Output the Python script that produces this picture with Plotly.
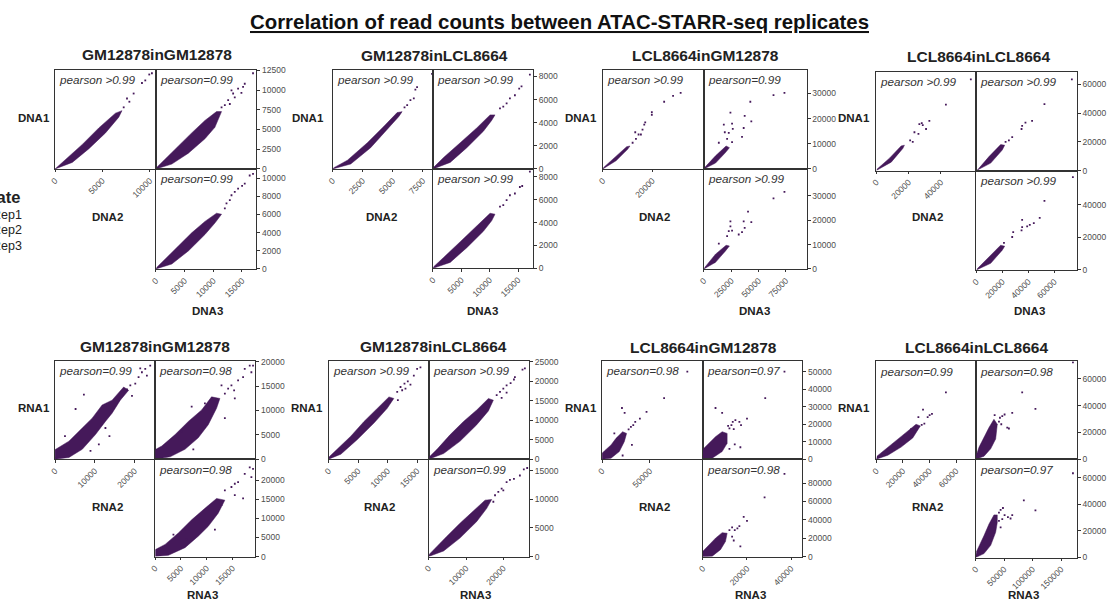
import plotly.graph_objects as go

# ---------------- text / labels ----------------
MAIN_TITLE = "Correlation of read counts between ATAC-STARR-seq replicates"
BLOCK_NAMES = ["GM12878inGM12878", "GM12878inLCL8664", "LCL8664inGM12878", "LCL8664inLCL8664"]
ASSAYS = ["DNA", "RNA"]
LEGEND_TITLE = "Replicate"
LEGEND_ITEMS = ["Rep1", "Rep2", "Rep3"]

# pearson labels per block: [rep2 vs rep1, rep3 vs rep1, rep3 vs rep2]
DNA_PEARSON = [["pearson >0.99", "pearson=0.99", "pearson=0.99"],
               ["pearson >0.99", "pearson >0.99", "pearson >0.99"],
               ["pearson >0.99", "pearson=0.99", "pearson >0.99"],
               ["pearson >0.99", "pearson >0.99", "pearson >0.99"]]
RNA_PEARSON = [["pearson=0.99", "pearson=0.98", "pearson=0.98"],
               ["pearson >0.99", "pearson >0.99", "pearson=0.99"],
               ["pearson=0.98", "pearson=0.97", "pearson=0.98"],
               ["pearson=0.99", "pearson=0.98", "pearson=0.97"]]

# axis maxima per block: [TL x, TL y, TR x, TR y, BR x, BR y]
DNA_MAX = [[10650, 12550, 17500, 12550, 17500, 11000],
           [8330, 8570, 17670, 8570, 17670, 8700],
           [40700, 39300, 93900, 39300, 93900, 41000],
           [62000, 68900, 77400, 68900, 77400, 61000]]
RNA_MAX = [[25200, 20200, 19440, 20200, 19440, 25580],
           [16950, 25250, 26900, 25250, 26900, 17000],
           [105600, 56200, 45150, 56200, 45150, 105900],
           [74800, 73000, 177800, 73000, 177800, 73800]]

# tick values per block: [rep2 on x (TL), rep1 on y, rep3 on x, rep2 on y (BR)]
DNA_TICKS = [[[0, 5000, 10000], [0, 2500, 5000, 7500, 10000, 12500], [0, 5000, 10000, 15000], [0, 2000, 4000, 6000, 8000, 10000]],
             [[0, 2500, 5000, 7500], [0, 2000, 4000, 6000, 8000], [0, 5000, 10000, 15000], [0, 2000, 4000, 6000, 8000]],
             [[0, 20000], [0, 10000, 20000, 30000], [0, 25000, 50000, 75000], [0, 10000, 20000, 30000]],
             [[0, 20000, 40000], [0, 20000, 40000, 60000], [0, 20000, 40000, 60000], [0, 20000, 40000]]]
RNA_TICKS = [[[0, 10000, 20000], [0, 5000, 10000, 15000, 20000], [0, 5000, 10000, 15000], [0, 5000, 10000, 15000, 20000]],
             [[0, 5000, 10000, 15000], [0, 5000, 10000, 15000, 20000, 25000], [0, 10000, 20000], [0, 5000, 10000, 15000]],
             [[0, 50000], [0, 10000, 20000, 30000, 40000, 50000], [0, 20000, 40000], [0, 20000, 40000, 60000, 80000]],
             [[0, 20000, 40000, 60000], [0, 20000, 40000, 60000], [0, 50000, 100000, 150000], [0, 20000, 40000, 60000]]]

# ---------------- data: dense cloud outlines + sparse points ----------------
# naming: D/R = DNA/RNA, block number, then pair "21" (x rep2, y rep1), "31" (x rep3, y rep1), "32" (x rep3, y rep2)
D1_21_band = [(0, 0), (1820, 830), (3580, 2570), (5330, 4570), (6730, 6560), (7070, 7390), (6380, 7070), (4620, 5200), (2880, 3110), (1120, 1170), (0, 0)]
D1_21_pts = [(7600, 8930), (8300, 9560), (9180, 10890), (9530, 11220), (10230, 12130), (9950, 11970), (7250, 7810), (7850, 8520)]
D1_31_band = [(0, 0), (2770, 620), (5660, 2000), (8550, 3830), (10280, 5280), (11440, 7270), (10570, 7270), (8550, 6150), (6240, 4570), (3930, 2910), (1620, 1330), (170, 210)]
D1_31_pts = [(12010, 8100), (12590, 8720), (13460, 9560), (14320, 10180), (15190, 10390), (15480, 10800), (16920, 12130), (13170, 9970), (13740, 9060), (14900, 9640), (11440, 7810), (12880, 8230)]
D1_32_band = [(0, 0), (2770, 540), (5660, 1980), (8550, 3790), (10280, 5050), (11440, 6020), (10570, 6130), (8550, 5230), (6240, 3970), (3930, 2520), (1620, 1080), (170, 180)]
D1_32_pts = [(12010, 6670), (12880, 7570), (13170, 8110), (14320, 8840), (15480, 9380), (16340, 10280), (16920, 10460), (13740, 8480), (12300, 7210), (15020, 9130)]

D2_21_band = [(0, 0), (1510, 430), (3160, 1840), (4540, 3400), (5500, 4540), (5770, 4960), (5360, 4880), (4260, 3690), (2890, 2270), (1240, 760), (80, 90)]
D2_21_pts = [(6190, 5530), (6460, 5960), (6740, 6100), (7010, 7090), (6870, 6870), (5970, 5330), (8250, 8230)]
D2_31_band = [(0, 0), (3040, 570), (5970, 1840), (8890, 3260), (10350, 4200), (10940, 4680), (10070, 4680), (7720, 3550), (4810, 2270), (1870, 990), (120, 140)]
D2_31_pts = [(11820, 5250), (12990, 5670), (13570, 6100), (15620, 7150), (15210, 6950), (12400, 5390), (14450, 6380), (17090, 8170)]
D2_32_band = [(0, 0), (3040, 520), (5970, 1810), (8890, 3240), (10350, 4160), (10940, 4740), (10070, 4820), (7720, 3670), (4810, 2330), (1870, 950), (120, 140)]
D2_32_pts = [(11820, 5400), (12990, 5970), (13570, 6400), (15330, 7120), (15740, 7210), (12400, 5540), (14450, 6550), (17090, 8470)]

D3_21_band = [(0, 0), (5340, 3250), (10000, 7810), (10940, 9110), (9610, 8840), (4670, 4550), (260, 520)]
D3_21_pts = [(12010, 10410), (13350, 11970), (13070, 14570), (14410, 13670), (15350, 13670), (16000, 15620), (16690, 17570), (17090, 18480), (19740, 21470), (19740, 22510), (24700, 26680), (28290, 29020), (31340, 30190)]
D3_31_band = [(0, 0), (10610, 2340), (19720, 6510), (23290, 8460), (20280, 9110), (10610, 5200), (900, 650)]
D3_31_pts = [(13620, 10410), (21200, 11970), (25730, 10670), (19070, 14570), (22720, 14310), (26380, 15880), (18180, 17570), (25730, 17960), (24230, 22380), (34830, 12750), (36350, 16260), (43320, 18870), (42420, 26680), (37260, 21080), (63600, 29280), (73600, 30190)]
D3_32_band = [(0, 0), (10610, 2690), (19720, 7390), (23290, 9410), (20280, 9680), (10610, 6050), (900, 670)]
D3_32_pts = [(13620, 10350), (21200, 13440), (22720, 15460), (24230, 19490), (24230, 17470), (25730, 15730), (31810, 14120), (34830, 15060), (37260, 16800), (36350, 19490), (43320, 19220), (40310, 23530), (63600, 28900), (73600, 31590)]

D4_21_band = [(0, 0), (9240, 5860), (16430, 15370), (17420, 17640), (15380, 17160), (8180, 8610), (410, 910)]
D4_21_pts = [(20960, 21010), (22570, 19910), (26100, 25490), (26660, 32310), (28150, 33000), (28770, 31630), (23620, 26660), (30810, 28940), (32860, 34590), (43090, 45890), (58530, 63460)]
D4_31_band = [(0, 0), (10990, 5170), (19890, 14260), (21750, 17640), (18650, 18050), (9680, 9710), (770, 340)]
D4_31_pts = [(22450, 19910), (25000, 21010), (27560, 23290), (34750, 28940), (35220, 31140), (37770, 33420), (42880, 34590), (52400, 46300), (73530, 63460)]
D4_32_band = [(0, 0), (10990, 4030), (19890, 12120), (21750, 14540), (18650, 15150), (9680, 8080), (770, 810)]
D4_32_pts = [(21210, 16570), (27560, 20200), (28330, 23230), (34750, 24240), (35220, 26260), (39090, 26670), (41100, 27680), (44200, 28690), (48760, 31920), (35220, 30710), (52400, 42420), (74310, 56970)]

R1_21_band = [(0, 0), (3500, 340), (6850, 2020), (10180, 5050), (12680, 7740), (14360, 9430), (16430, 12120), (18520, 14140), (17260, 14810), (14360, 12120), (11840, 11110), (9350, 8420), (6850, 6400), (3500, 3700), (170, 2020), (0, 2000)]
R1_21_pts = [(20190, 15490), (21020, 16830), (21860, 17840), (22700, 18520), (23950, 19190), (18940, 15150), (7260, 13260), (5170, 10300), (12680, 6400), (11020, 3030), (2500, 4710), (8920, 1680), (13690, 4710), (19360, 12990), (23110, 17170), (21440, 18650), (18110, 14340)]
R1_31_band = [(0, 0), (2900, 470), (5790, 2020), (8360, 4380), (10300, 7070), (11910, 10440), (12560, 12460), (10940, 12790), (9020, 10100), (6430, 7740), (3870, 5050), (1280, 2690), (130, 2020), (0, 1800)]
R1_31_pts = [(13520, 13470), (14160, 14480), (14800, 15150), (16090, 16160), (17060, 16830), (18350, 19190), (18990, 19190), (18670, 17840), (12870, 15150), (15320, 14140), (17380, 18520), (15450, 12460), (9650, 11450), (7080, 10770), (5150, 5720), (13520, 8420), (7400, 2020)]
R1_32_band = [(0, 0), (2570, 330), (5790, 2330), (8360, 5340), (10300, 7920), (12230, 11370), (13520, 14810), (11910, 15250), (9650, 12660), (7080, 9650), (4500, 6200), (1930, 3190), (130, 1890), (0, 1700)]
R1_32_pts = [(14800, 18260), (15450, 19120), (16090, 19550), (17380, 21700), (18350, 23430), (18990, 23000), (18670, 20840), (17060, 15250), (13520, 17400), (15450, 16110), (12870, 13520), (11590, 7060), (6110, 4480), (3540, 5770), (5790, 7060)]

R2_21_band = [(0, 0), (2080, 1260), (4880, 5050), (7690, 9270), (9930, 13050), (11050, 15580), (10220, 15980), (8250, 13050), (6000, 9670), (3760, 5890), (1510, 2520), (110, 590)]
R2_21_pts = [(11620, 17250), (12180, 18520), (12850, 19360), (13410, 19950), (14430, 21460), (14990, 23150), (15550, 23570), (13860, 19110), (12460, 17680), (11730, 15150), (13020, 18100)]
R2_31_band = [(0, 0), (4000, 1430), (8440, 4630), (12870, 8840), (15980, 12370), (17310, 15150), (15980, 15570), (12870, 12630), (9320, 9670), (5770, 6310), (2220, 2520), (180, 590)]
R2_31_pts = [(18200, 16410), (19090, 17250), (19980, 18100), (20860, 18940), (21930, 19530), (23080, 21040), (25120, 22980), (25750, 23320), (20860, 17080), (19530, 15740), (22820, 20450)]
R2_32_band = [(0, 0), (4000, 970), (8440, 3260), (12870, 6120), (15540, 8410), (16870, 9960), (15090, 9840), (11990, 8010), (8440, 5840), (4880, 3550), (1780, 1550), (180, 400)]
R2_32_pts = [(17760, 10700), (18640, 11280), (19530, 11850), (20860, 12990), (21750, 13390), (22820, 13570), (24410, 14140), (25470, 15230), (26370, 15450), (19980, 11560), (17310, 9560)]

R3_21_band = [(0, 0), (9380, 560), (18060, 4340), (23280, 9990), (25700, 14710), (21540, 15660), (14590, 11880), (9380, 8110), (2430, 4710), (0, 3390)]
R3_21_pts = [(27790, 16970), (30210, 18490), (32660, 19430), (34740, 21310), (39600, 23200), (46550, 26970), (64960, 34890), (89270, 49980), (20840, 29230), (23620, 26400), (31260, 8110), (21540, 2070), (12850, 14710)]
R3_31_band = [(0, 0), (4210, 560), (8730, 4340), (10990, 9050), (10990, 14710), (8730, 15660), (5720, 12820), (2710, 9050), (450, 6220), (0, 4340)]
R3_31_pts = [(12040, 17540), (12940, 19430), (13540, 21310), (14750, 22250), (16550, 21310), (17300, 19430), (13990, 17160), (11440, 19050), (5720, 29230), (8730, 26400), (20010, 23200), (17000, 6790), (12040, 5850), (14450, 8490), (28290, 34890), (37020, 49980)]
R3_32_band = [(0, 0), (4210, 710), (7980, 7790), (10230, 16640), (10990, 25500), (8730, 26210), (5720, 20190), (2710, 13100), (450, 7790), (0, 6020)]
R3_32_pts = [(12040, 29040), (13250, 31880), (14450, 29040), (15650, 30820), (13250, 21960), (13990, 17710), (17000, 11330), (20010, 38960), (18510, 43210), (16550, 33290), (27990, 64460), (37020, 89970)]

R4_21_band = [(0, 0), (8730, 2920), (18700, 8980), (27430, 15820), (33160, 24820), (29920, 26040), (22440, 19950), (14960, 13870), (6230, 7060), (500, 2190)]
R4_21_pts = [(34160, 25550), (36150, 26520), (38640, 31390), (40140, 32850), (41880, 33820), (35150, 36990), (31670, 31390), (52360, 49880), (26180, 22390)]
R4_31_band = [(0, 0), (14580, 2190), (26310, 7810), (35030, 15110), (37870, 26060), (32000, 29710), (23290, 23580), (14580, 16280), (5870, 8980), (1000, 2920)]
R4_31_pts = [(40810, 27980), (42560, 30900), (46640, 32120), (50720, 33340), (55390, 23600), (58300, 22870), (44890, 26040), (33240, 32850), (64150, 34550), (81640, 49880), (104930, 37480), (170850, 72270)]
R4_32_band = [(0, 0), (14580, 2950), (26310, 9100), (35030, 18940), (37870, 26320), (37870, 31980), (32000, 31980), (23290, 25090), (14580, 16480), (5870, 9100), (1000, 4180)]
R4_32_pts = [(40810, 33700), (43720, 35670), (47830, 37150), (40810, 27550), (46640, 28780), (50720, 31730), (56550, 30260), (61210, 29270), (64150, 31730), (84530, 42800), (104930, 35420), (170850, 63220), (43720, 22630)]

CLOUDS = {
    (0, 0): [(D1_21_band, D1_21_pts), (D1_31_band, D1_31_pts), (D1_32_band, D1_32_pts)],
    (0, 1): [(D2_21_band, D2_21_pts), (D2_31_band, D2_31_pts), (D2_32_band, D2_32_pts)],
    (0, 2): [(D3_21_band, D3_21_pts), (D3_31_band, D3_31_pts), (D3_32_band, D3_32_pts)],
    (0, 3): [(D4_21_band, D4_21_pts), (D4_31_band, D4_31_pts), (D4_32_band, D4_32_pts)],
    (1, 0): [(R1_21_band, R1_21_pts), (R1_31_band, R1_31_pts), (R1_32_band, R1_32_pts)],
    (1, 1): [(R2_21_band, R2_21_pts), (R2_31_band, R2_31_pts), (R2_32_band, R2_32_pts)],
    (1, 2): [(R3_21_band, R3_21_pts), (R3_31_band, R3_31_pts), (R3_32_band, R3_32_pts)],
    (1, 3): [(R4_21_band, R4_21_pts), (R4_31_band, R4_31_pts), (R4_32_band, R4_32_pts)],
}

# ---------------- layout geometry (pixels) ----------------
W, H = 1112, 611
GEOM = {  # per assay row: left, middle, right edges; top, middle, bottom edges of each block
    0: dict(L=[49.3, 328.3, 600, 875], M=[150.7, 429.3, 701.7, 975.7], R=[251.7, 530, 805, 1076.7],
            T=[66, 66, 66, 67.7], C=[166.7, 166.7, 166.7, 168.3], B=[268.3, 267.7, 268.3, 269.3]),
    1: dict(L=[49.3, 324.3, 599.3, 875], M=[150, 425, 700.7, 975], R=[250.7, 526, 800.7, 1076.7],
            T=[361.7, 361.7, 361.7, 362.3], C=[461.7, 461.7, 461.7, 461.7], B=[560.7, 560.7, 561, 561.7]),
}
TITLE_POS = {0: ([151.5, 431, 702.8, 977.5], [50.7, 51.7, 51.7, 52.7]),
             1: ([149.5, 429.7, 701.7, 975.8], [346.7, 346.7, 348.3, 348])}
LAB1_POS = {0: ([28, 303.5, 577.7, 853], 115), 1: ([28, 302.8, 578, 852.8], 410)}
LAB2_POS = {0: ([102.5, 377.5, 651.7, 926.7], 216), 1: ([101.7, 375.8, 651.7, 926.7], 510)}
LAB3_POS = {0: ([203, 478.8, 753, 1028.8], 311), 1: ([198, 472.5, 748.3, 1023], 600)}

PURPLE = "#45195a"
FONT = "Liberation Sans, Arial, sans-serif"
TICKFONT = dict(family=FONT, size=8.5, color="#4d4d4d")


def px(x):
    return x / W


def py(y):
    return 1 - y / H


fig = go.Figure()
layout = {}
annotations = []

for a in range(2):
    g = GEOM[a]
    pears = DNA_PEARSON if a == 0 else RNA_PEARSON
    maxes = DNA_MAX if a == 0 else RNA_MAX
    ticks = DNA_TICKS if a == 0 else RNA_TICKS
    for b in range(4):
        doms = [
            ((g["L"][b], g["M"][b]), (g["T"][b], g["C"][b])),
            ((g["M"][b], g["R"][b]), (g["T"][b], g["C"][b])),
            ((g["M"][b], g["R"][b]), (g["C"][b], g["B"][b])),
        ]
        tick_sets = [(ticks[b][0], ticks[b][1]), (ticks[b][2], ticks[b][1]), (ticks[b][2], ticks[b][3])]
        for p in range(3):
            idx = a * 12 + b * 3 + p + 1
            sfx = "" if idx == 1 else str(idx)
            (x0, x1), (y0, y1) = doms[p]
            band, pts = CLOUDS[(a, b)][p]
            xt, yt = tick_sets[p]
            fig.add_trace(go.Scatter(
                x=[q[0] for q in band], y=[q[1] for q in band], mode="lines", fill="toself",
                fillcolor=PURPLE, line=dict(color=PURPLE, width=0.5), xaxis="x" + sfx, yaxis="y" + sfx,
                hoverinfo="skip", showlegend=False))
            fig.add_trace(go.Scatter(
                x=[q[0] for q in pts], y=[q[1] for q in pts], mode="markers",
                marker=dict(color=PURPLE, size=1.8, symbol="square", line=dict(width=0)),
                xaxis="x" + sfx, yaxis="y" + sfx, showlegend=False, cliponaxis=True))
            show_x = p in (0, 2)
            show_y = p in (1, 2)
            xa = dict(domain=[px(x0), px(x1)], anchor="y" + sfx, range=[0, maxes[b][2 * p]],
                      showgrid=False, zeroline=False, showline=True, mirror=True,
                      linecolor="#333333", linewidth=1)
            ya = dict(domain=[py(y1), py(y0)], anchor="x" + sfx, range=[0, maxes[b][2 * p + 1]],
                      showgrid=False, zeroline=False, showline=True, mirror=True,
                      linecolor="#333333", linewidth=1)
            if show_x:
                xa.update(tickmode="array", tickvals=xt, ticktext=[str(v) for v in xt],
                          ticks="outside", ticklen=2.5, tickcolor="#333333", tickangle=-45,
                          tickfont=TICKFONT, showticklabels=True)
            else:
                xa.update(showticklabels=False, ticks="")
            if show_y:
                ya.update(side="right", tickmode="array", tickvals=yt, ticktext=[str(v) for v in yt],
                          ticks="outside", ticklen=3, tickcolor="#333333",
                          tickfont=TICKFONT, showticklabels=True)
            else:
                ya.update(showticklabels=False, ticks="")
            layout["xaxis" + sfx] = xa
            layout["yaxis" + sfx] = ya
            annotations.append(dict(
                text="<i>" + pears[b][p] + "</i>", xref="x" + sfx + " domain", yref="y" + sfx + " domain",
                x=0.02, y=0.985, xanchor="left", yanchor="top", showarrow=False,
                font=dict(family=FONT, size=11.7, color="#333333")))

        # block title and replicate labels
        tx, ty = TITLE_POS[a]
        annotations.append(dict(text="<b>" + BLOCK_NAMES[b] + "</b>", xref="paper", yref="paper",
                                x=px(tx[b]), y=py(ty[b]), xanchor="center", yanchor="middle",
                                showarrow=False, font=dict(family=FONT, size=15.5, color="#222222")))
        for pos, rep in ((LAB1_POS, 1), (LAB2_POS, 2), (LAB3_POS, 3)):
            xs, yy = pos[a]
            annotations.append(dict(text="<b>" + ASSAYS[a] + str(rep) + "</b>", xref="paper", yref="paper",
                                    x=px(xs[b]), y=py(yy), xanchor="center", yanchor="middle",
                                    showarrow=False, font=dict(family=FONT, size=11.5, color="#222222")))

# partially visible legend on the left edge (cut by the page edge, as in the source)
annotations.append(dict(text="<b>" + LEGEND_TITLE + "</b>", xref="paper", yref="paper",
                        x=px(16), y=py(195), xanchor="right", yanchor="middle", showarrow=False,
                        font=dict(family=FONT, size=16.5, color="#222222")))
for i, item in enumerate(LEGEND_ITEMS):
    annotations.append(dict(text=item, xref="paper", yref="paper",
                            x=px(18), y=py(213 + 16 * i), xanchor="right", yanchor="middle",
                            showarrow=False, font=dict(family=FONT, size=12.5, color="#222222")))

# main title
annotations.append(dict(text="<u><b>" + MAIN_TITLE + "</b></u>", xref="paper", yref="paper",
                        x=px(556.5), y=py(17), xanchor="center", yanchor="middle", showarrow=False,
                        font=dict(family=FONT, size=20.4, color="#111111")))

fig.update_layout(width=W, height=H, margin=dict(l=0, r=0, t=0, b=0),
                  paper_bgcolor="white", plot_bgcolor="white", showlegend=False,
                  annotations=annotations, **layout)

fig.write_html("out.html", config={"displayModeBar": False},
               post_script="document.body.style.margin='0px';")
